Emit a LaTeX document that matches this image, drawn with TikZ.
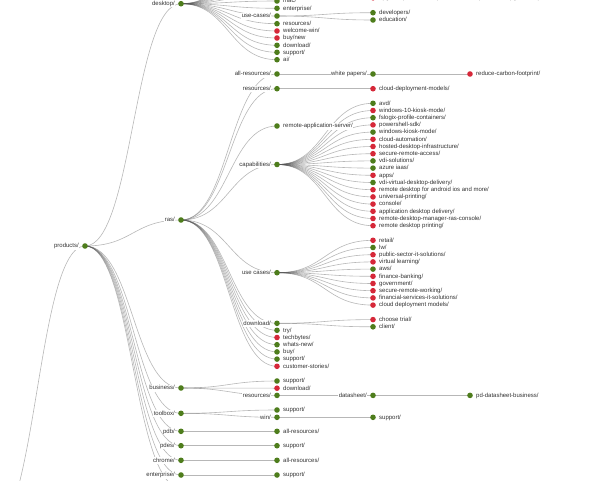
\documentclass[tikz,border=0pt]{standalone}
\usepackage{fontspec}
\setmainfont{Liberation Sans}
\usetikzlibrary{calc}
\definecolor{ndg}{RGB}{78,125,28}
\definecolor{ndr}{RGB}{214,40,57}
\definecolor{txt}{RGB}{51,51,51}
\pgfdeclarelayer{bg}
\pgfsetlayers{bg,main}
\newcommand\lblfont{\fontsize{6}{7}\selectfont}
\tikzset{
  dotg/.style={circle, fill=ndg, inner sep=0pt, minimum size=5.6pt},
  dotr/.style={circle, fill=ndr, inner sep=0pt, minimum size=5.6pt},
  lab/.style={font=\lblfont, text=txt, fill=white, inner sep=0.4pt, text height=4.4pt, text depth=1.3pt},
  labR/.style={lab, anchor=west, xshift=5.6pt, yshift=-0.3pt},
  labL/.style={lab, anchor=east, xshift=-5.6pt, yshift=-0.3pt},
  lnk/.style={draw=black!67, draw opacity=0.42, line width=0.6pt}
}
\newcommand\nd[6]{%
  \node[dot#4] (#1) at (#2,#3) {};
  \node[lab#5] (#1-l) at (#1.center) {#6};}
\newcommand\lk[2]{\draw[lnk] let \p1=(#1.center), \p2=(#2.center) in (\p1) .. controls ({(\x1+\x2)/2},\y1) and ({(\x1+\x2)/2},\y2) .. (\p2);}
\begin{document}
\begin{tikzpicture}[x=1pt,y=-1pt]
\useasboundingbox (0,0) rectangle (594,480);
\clip (0,0) rectangle (594,480);
% level 0-1
\coordinate (root) at (-11,535);
\nd{prod}{85}{246}{g}{L}{products/}
% level 2
\nd{desk}{181}{3.7}{g}{L}{desktop/}
\nd{ras}{181}{220}{g}{L}{ras/}
\nd{bus}{181}{388}{g}{L}{business/}
\nd{tool}{181}{413.3}{g}{L}{toolbox/}
\nd{pdb}{181}{431.3}{g}{L}{pdb/}
\nd{pdes}{181}{445.7}{g}{L}{pdes/}
\nd{chr}{181}{460.3}{g}{L}{chrome/}
\nd{ent}{181}{475}{g}{L}{enterprise/}
\coordinate (plast) at (181,488);
% desktop children
\coordinate (dh1) at (277,-6.5);
\coordinate (dh2) at (277,-13.8);
\coordinate (dh3) at (277,-21.1);
\coordinate (dh4) at (277,-28.4);
\coordinate (dh5) at (277,-35.7);
\coordinate (dh6) at (277,-43);
\coordinate (dh7) at (277,-50.3);
\nd{dmac}{277}{1}{g}{R}{mac/}
\nd{dent}{277}{8.3}{g}{R}{enterprise/}
\nd{duc}{277}{16}{g}{L}{use-cases/}
\nd{dres}{277}{23.7}{g}{R}{resources/}
\nd{dwel}{277}{31}{r}{R}{welcome-win/}
\nd{dbuy}{277}{38}{r}{R}{buy/new}
\nd{ddl}{277}{45.3}{g}{R}{download/}
\nd{dsup}{277}{52.3}{g}{R}{support/}
\nd{dai}{277}{59.7}{g}{R}{ai/}
\nd{dev}{373}{12.7}{g}{R}{developers/}
\nd{edu}{373}{20}{g}{R}{education/}
\nd{upg}{373}{-2.2}{r}{R}{upgrade/pd-business-parallels-desktop-for-mac/upgrade-to-pro-edition/}
% ras children
\nd{rall}{277}{74}{g}{L}{all-resources/}
\nd{rwp}{373}{74}{g}{L}{white papers/}
\nd{rred}{470}{74}{r}{R}{reduce-carbon-footprint/}
\nd{rres}{277}{88.7}{g}{L}{resources/}
\nd{rcdm}{373}{88.7}{r}{R}{cloud-deployment-models/}
\nd{rsrv}{277}{126}{g}{R}{remote-application-server/}
\nd{rcap}{277}{164.5}{g}{L}{capabilities/}
\nd{c1}{373}{103.3}{g}{R}{avd/}
\nd{c2}{373}{110.5}{r}{R}{windows-10-kiosk-mode/}
\nd{c3}{373}{117.7}{g}{R}{fslogix-profile-containers/}
\nd{c4}{373}{124.9}{r}{R}{powershell-sdk/}
\nd{c5}{373}{132.1}{g}{R}{windows-kiosk-mode/}
\nd{c6}{373}{139.3}{r}{R}{cloud-automation/}
\nd{c7}{373}{146.5}{r}{R}{hosted-desktop-infrastructure/}
\nd{c8}{373}{153.7}{r}{R}{secure-remote-access/}
\nd{c9}{373}{160.9}{g}{R}{vdi-solutions/}
\nd{c10}{373}{168.1}{g}{R}{azure iaas/}
\nd{c11}{373}{175.3}{r}{R}{apps/}
\nd{c12}{373}{182.5}{g}{R}{vdi-virtual-desktop-delivery/}
\nd{c13}{373}{189.7}{r}{R}{remote desktop for android ios and more/}
\nd{c14}{373}{196.9}{r}{R}{universal-printing/}
\nd{c15}{373}{204.1}{r}{R}{console/}
\nd{c16}{373}{211.3}{r}{R}{application desktop delivery/}
\nd{c17}{373}{218.5}{r}{R}{remote-desktop-manager-ras-console/}
\nd{c18}{373}{225.7}{r}{R}{remote desktop printing/}
\nd{ruc}{277}{272.7}{g}{L}{use cases/}
\nd{u1}{373}{240.3}{r}{R}{retail/}
\nd{u2}{373}{247.5}{g}{R}{lw/}
\nd{u3}{373}{254.7}{r}{R}{public-sector-it-solutions/}
\nd{u4}{373}{261.9}{r}{R}{virtual learning/}
\nd{u5}{373}{269.1}{g}{R}{aws/}
\nd{u6}{373}{276.3}{r}{R}{finance-banking/}
\nd{u7}{373}{283.5}{r}{R}{government/}
\nd{u8}{373}{290.7}{r}{R}{secure-remote-working/}
\nd{u9}{373}{297.9}{r}{R}{financial-services-it-solutions/}
\nd{u10}{373}{305.1}{r}{R}{cloud deployment models/}
\nd{rdl}{277}{323.3}{g}{L}{download/}
\nd{rct}{373}{319.6}{r}{R}{choose trial/}
\nd{rcl}{373}{326.8}{g}{R}{client/}
\nd{rtry}{277}{330.3}{g}{R}{try/}
\nd{rtb}{277}{337.5}{r}{R}{techbytes/}
\nd{rwn}{277}{344.7}{g}{R}{whats-new/}
\nd{rbuy}{277}{351.9}{g}{R}{buy/}
\nd{rsup}{277}{359.1}{g}{R}{support/}
\nd{rcs}{277}{366.3}{r}{R}{customer-stories/}
% business
\nd{bsup}{277}{381}{g}{R}{support/}
\nd{bdl}{277}{388.2}{r}{R}{download/}
\nd{bres}{277}{395.4}{g}{L}{resources/}
\nd{bds}{373}{395.4}{g}{L}{datasheet/}
\nd{bpd}{470}{395.4}{g}{R}{pd-datasheet-business/}
% toolbox etc.
\nd{tsup}{277}{410}{g}{R}{support/}
\nd{twin}{277}{417.3}{g}{L}{win/}
\nd{twsup}{373}{417.3}{g}{R}{support/}
\nd{pdbar}{277}{431.3}{g}{R}{all-resources/}
\nd{pdsup}{277}{445.7}{g}{R}{support/}
\nd{chrar}{277}{460.3}{g}{R}{all-resources/}
\nd{entsup}{277}{475}{g}{R}{support/}
% links
\begin{pgfonlayer}{bg}
\clip (0,0) rectangle (594,480);
\foreach \a/\b in {root/prod, prod/desk, prod/ras, prod/bus, prod/tool, prod/pdb, prod/pdes, prod/chr, prod/ent, prod/plast,
  desk/dh1, desk/dh2, desk/dh3, desk/dh4, desk/dh5, desk/dh6, desk/dh7,
  desk/dmac, desk/dent, desk/duc, desk/dres, desk/dwel, desk/dbuy, desk/ddl, desk/dsup, desk/dai,
  duc/dev, duc/edu, dh1/upg,
  ras/rall, ras/rres, ras/rsrv, ras/rcap, ras/ruc, ras/rdl, ras/rtry, ras/rtb, ras/rwn, ras/rbuy, ras/rsup, ras/rcs,
  rall/rwp, rwp/rred, rres/rcdm, rdl/rct, rdl/rcl,
  bus/bsup, bus/bdl, bus/bres, bres/bds, bds/bpd,
  tool/tsup, tool/twin, twin/twsup, pdb/pdbar, pdes/pdsup, chr/chrar, ent/entsup}
  {\lk{\a}{\b}}
\foreach \i in {1,...,18} {\lk{rcap}{c\i}}
\foreach \i in {1,...,10} {\lk{ruc}{u\i}}
\end{pgfonlayer}
\end{tikzpicture}
\end{document}
